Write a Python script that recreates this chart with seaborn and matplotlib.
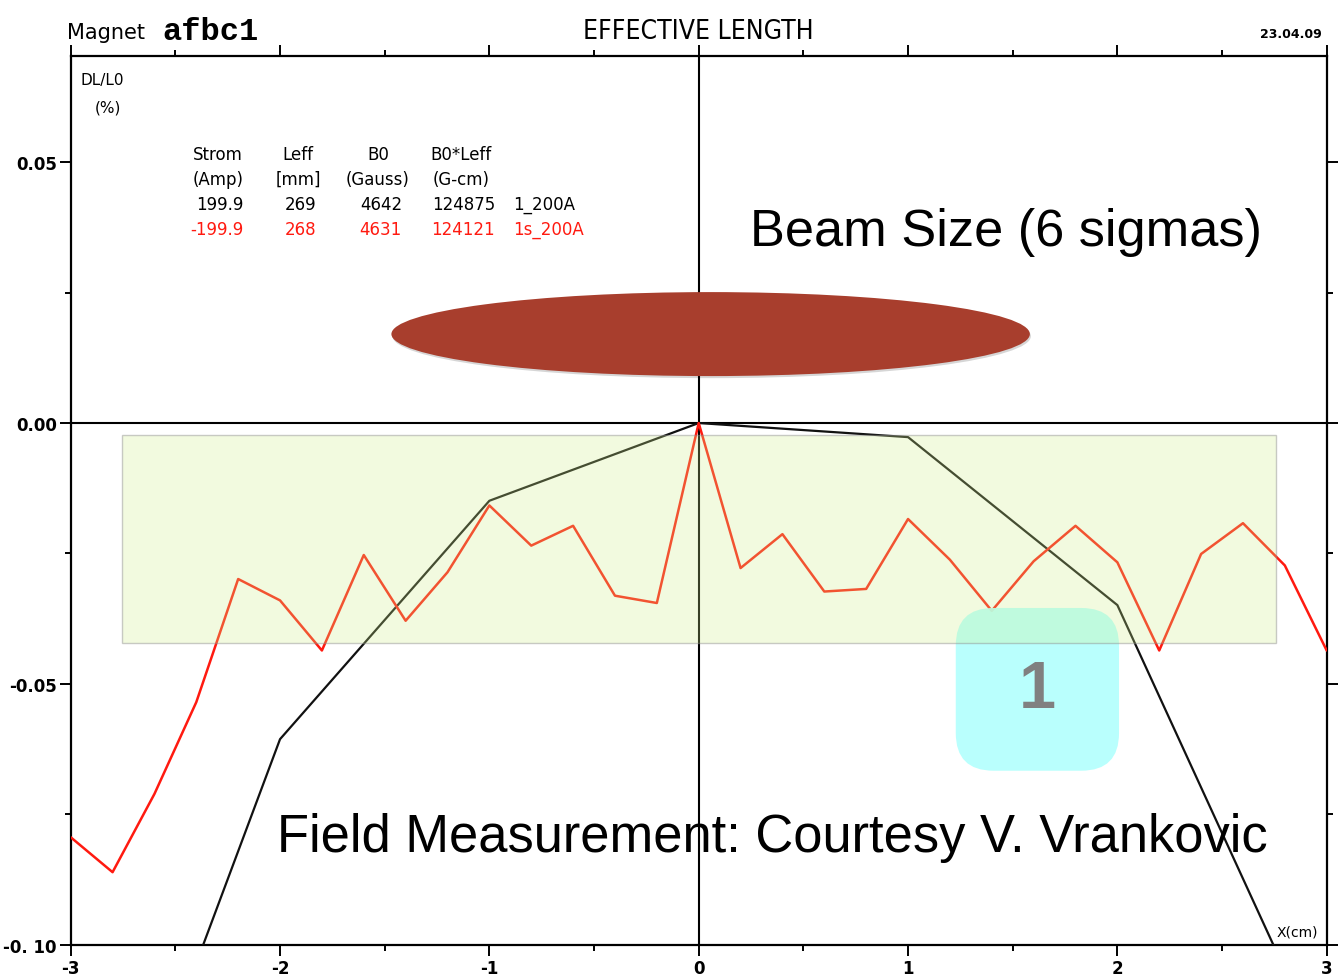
import numpy as np
import pandas as pd
import matplotlib
matplotlib.use("Agg")
import matplotlib.pyplot as plt
from matplotlib import font_manager
from matplotlib.patches import Rectangle, Ellipse, FancyBboxPatch
from matplotlib.ticker import MultipleLocator, FixedLocator, FixedFormatter
import seaborn as sns

# ---------------- data ----------------
x_red = [-3.0, -2.8, -2.6, -2.4, -2.2, -2.0, -1.8, -1.6, -1.4, -1.2, -1.0,
         -0.8, -0.6, -0.4, -0.2, 0.0, 0.2, 0.4, 0.6, 0.8, 1.0,
         1.2, 1.4, 1.6, 1.8, 2.0, 2.2, 2.4, 2.6, 2.8, 3.0]
y_red = [-0.0794, -0.0861, -0.0711, -0.0535, -0.0299, -0.0340, -0.0436, -0.0253,
         -0.0379, -0.0286, -0.0158, -0.0235, -0.0197, -0.0331, -0.0345, 0.0,
         -0.0278, -0.0213, -0.0323, -0.0318, -0.0184, -0.0262, -0.0360, -0.0265,
         -0.0197, -0.0267, -0.0436, -0.0251, -0.0192, -0.0273, -0.0436]
x_black = [-3, -2, -1, 0, 1, 2, 3]
y_black = [-0.168, -0.0606, -0.0149, 0.0, -0.0027, -0.0349, -0.1223]

x_ticks = [-3, -2, -1, 0, 1, 2, 3]
x_ticklabels = ["-3", "-2", "-1", "0", "1", "2", "3"]
y_ticks = [-0.10, -0.05, 0.0, 0.05]
y_ticklabels = ["-0. 10", "-0.05", "0.00", "0.05"]

table_head1 = ["Strom", "Leff", "B0", "B0*Leff"]
table_head2 = ["(Amp)", "[mm]", "(Gauss)", "(G-cm)"]
row_pos = ["199.9", "269", "4642", "124875", "1_200A"]
row_neg = ["-199.9", "268", "4631", "124121", "1s_200A"]

# ---------------- figure ----------------
sns.set_style("white")
plt.rcParams["font.family"] = ["DejaVu Sans"]
plt.rcParams["text.color"] = "black"
plt.rcParams["xtick.color"] = "black"
plt.rcParams["ytick.color"] = "black"
plt.rcParams["xtick.labelcolor"] = "black"
plt.rcParams["ytick.labelcolor"] = "black"

installed = {f.name for f in font_manager.fontManager.ttflist}
big_family = "Liberation Sans Narrow" if "Liberation Sans Narrow" in installed else "Liberation Sans"

W, H = 1340, 978
fig = plt.figure(figsize=(W / 100, H / 100), dpi=100)
L, R, T, B = 70.7, 1326.7, 57.3, 945.7
ax = fig.add_axes([L / W, 1 - B / H, (R - L) / W, (B - T) / H])


def fx(px):
    return px / W


def fy(py):
    return 1 - py / H


df_red = pd.DataFrame({"x": x_red, "y": y_red})
df_black = pd.DataFrame({"x": x_black, "y": y_black})

ax.axhline(0, color="black", lw=1.5, zorder=2)
ax.axvline(0, color="black", lw=1.5, zorder=2)

sns.lineplot(data=df_black, x="x", y="y", ax=ax, color="#111111", lw=1.6,
             estimator=None, sort=False, zorder=3)
sns.lineplot(data=df_red, x="x", y="y", ax=ax, color="#ff1a10", lw=1.8,
             estimator=None, sort=False, zorder=3)

ax.set_xlim(-3, 3)
ax.set_ylim(-0.1, 0.0703)
ax.set_xlabel("")
ax.set_ylabel("")

ax.xaxis.set_major_locator(FixedLocator(x_ticks))
ax.xaxis.set_major_formatter(FixedFormatter(x_ticklabels))
ax.xaxis.set_minor_locator(MultipleLocator(0.5))
ax.yaxis.set_major_locator(FixedLocator(y_ticks))
ax.yaxis.set_major_formatter(FixedFormatter(y_ticklabels))
ax.yaxis.set_minor_locator(MultipleLocator(0.025))
ax.tick_params(which="both", direction="out", top=True, right=True,
               bottom=True, left=True, labeltop=False, labelright=False,
               width=1.4, color="black", labelsize=12, pad=2)
ax.tick_params(which="major", length=8)
ax.tick_params(which="minor", length=4)
for lab in ax.get_xticklabels() + ax.get_yticklabels():
    lab.set_fontweight("bold")
for s in ax.spines.values():
    s.set_linewidth(1.6)
    s.set_color("black")

# beam ellipse with soft shadow
ax.add_patch(Ellipse((0.062, 0.01665), 3.05, 0.0161, facecolor=(0, 0, 0, 0.16),
                     edgecolor="none", zorder=4))
ax.add_patch(Ellipse((0.057, 0.01705), 3.05, 0.0161, facecolor="#a83e2d",
                     edgecolor="none", zorder=5))

# cyan rounded box
asp = (209.3 / 5217)
ax.add_patch(FancyBboxPatch((1.228, -0.06665), 2.008 - 1.228, 0.0312,
                            boxstyle="round,pad=0,rounding_size=0.18",
                            mutation_aspect=asp, facecolor="#b4fffd",
                            edgecolor="none", alpha=0.93, zorder=6))
ax.text(1.618, -0.0512, "1", ha="center", va="center", fontsize=48,
        fontweight="bold", color="#808080", family="Liberation Sans", zorder=7)

# green band on top
ax.add_patch(Rectangle((-2.755, -0.0421), 5.514, 0.0398,
                       facecolor=(0.824, 0.941, 0.545, 0.27),
                       edgecolor=(0.55, 0.55, 0.55, 0.45), lw=1.0, zorder=8))

# big annotation texts, fitted to the reference width
renderer = fig.canvas.get_renderer()


def fitted_text(x0, x1, ybase, s, size):
    t = fig.text(fx(x0), fy(ybase), s, ha="left", va="baseline", fontsize=size,
                 family=big_family, color="black", zorder=9)
    w = t.get_window_extent(renderer=renderer).width
    t.set_fontsize(size * (x1 - x0) / w)
    return t


fitted_text(750, 1262, 246, "Beam Size (6 sigmas)", 46)
fitted_text(277, 1268, 852, "Field Measurement: Courtesy V. Vrankovic", 46)

# header
fig.text(fx(67), fy(33), "Magnet", ha="left", va="center", fontsize=15)
fig.text(fx(162), fy(32), "afbc1", ha="left", va="center", fontsize=23,
         fontweight="bold", family="Liberation Mono")
fig.text(fx(698), fy(32), "EFFECTIVE LENGTH", ha="center", va="center",
         fontsize=19, fontstretch="condensed")
fig.text(fx(1322), fy(35), "23.04.09", ha="right", va="center", fontsize=9,
         fontweight="bold")

# axis unit labels
fig.text(fx(80), fy(80), "DL/L0", ha="left", va="center", fontsize=11)
fig.text(fx(95), fy(108), "(%)", ha="left", va="center", fontsize=11)
fig.text(fx(1318), fy(933), "X(cm)", ha="right", va="center", fontsize=10)

# table
col_cx = [218, 298, 378, 461]
for i, c in enumerate(col_cx):
    fig.text(fx(c), fy(155), table_head1[i], ha="center", va="center", fontsize=12)
    fig.text(fx(c), fy(180), table_head2[i], ha="center", va="center", fontsize=12)
col_r = [243, 316, 402, 495]
for i, c in enumerate(col_r):
    fig.text(fx(c), fy(205), row_pos[i], ha="right", va="center", fontsize=12)
    fig.text(fx(c), fy(230), row_neg[i], ha="right", va="center", fontsize=12,
             color="#ff1a10")
fig.text(fx(513), fy(205), row_pos[4], ha="left", va="center", fontsize=12)
fig.text(fx(513), fy(230), row_neg[4], ha="left", va="center", fontsize=12,
         color="#ff1a10")

fig.savefig("out.png", dpi=100)
